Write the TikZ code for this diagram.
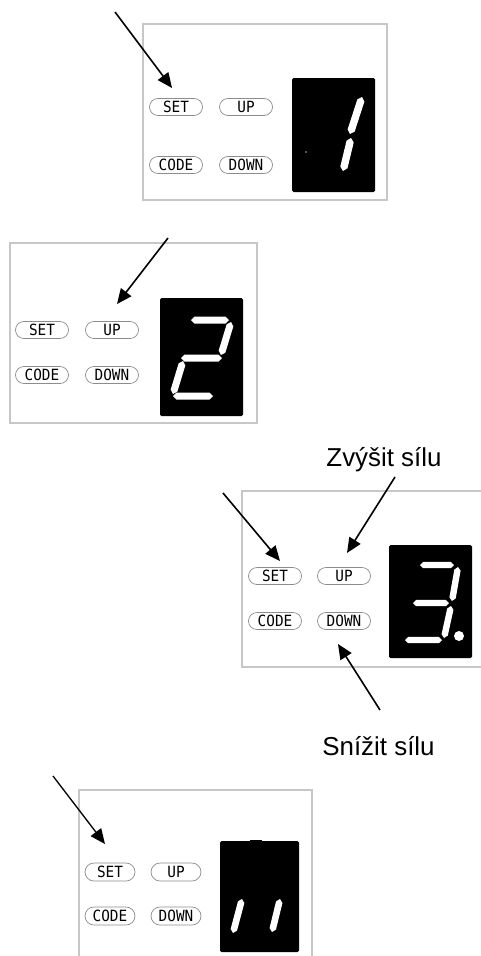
\documentclass[tikz,border=0pt]{standalone}
\usepackage{fontspec}
\setmainfont{Liberation Sans}
\newfontfamily\btnfont[FakeStretch=0.93]{DejaVu Sans Mono}
\usetikzlibrary{arrows.meta,calc,shapes.misc}
\tikzset{
 frame/.style={draw=black!22,line width=1.2bp},
 btn/.style={rounded rectangle,draw=black!45,line width=0.7bp,minimum width=53bp,minimum height=17bp,inner sep=0pt,font=\btnfont\fontsize{15.5}{15.5}\selectfont},
 disp/.style={fill=black,rounded corners=1.5bp},
 arr/.style={line width=1.6bp,-{Triangle[length=15bp,width=13bp]}},
 lbl/.style={font=\fontsize{26}{26}\selectfont,anchor=base,inner sep=0pt},
}
\newcommand\dseg[3][3bp]{%
  \coordinate (sA) at #2; \coordinate (sB) at #3;
  \coordinate (sA1) at ($(sA)!#1!(sB)$);
  \coordinate (sB1) at ($(sB)!#1!(sA)$);
  \fill[white] (sA) -- ($(sA1)!#1!90:(sB)$) -- ($(sB1)!#1!-90:(sA)$) -- (sB) -- ($(sB1)!#1!90:(sA)$) -- ($(sA1)!#1!-90:(sB)$) -- cycle;}
\begin{document}
\begin{tikzpicture}[x=1bp,y=-1bp]
\fill[white] (0,0) rectangle (481,956);
\useasboundingbox (0,0) rectangle (481,956);

% ---------- panel 1 ----------
\draw[frame] (143,24) rectangle (387,200);
\node[btn] (set1) at (176,107) {SET};
\node[btn] (up1) at (246,107) {UP};
\node[btn] (code1) at (176,165) {CODE};
\node[btn] (down1) at (246,165) {DOWN};
\fill[disp] (292,78) rectangle (375,192);
\fill[black!55] (306,152) circle (1.2bp);
\dseg[3.7bp]{(362,97)}{(350,134)}
\dseg[3.7bp]{(351,138)}{(343,171)}
\coordinate (a1s) at (115,12);
\coordinate (a1e) at (172,88);
\draw[arr] (a1s) -- (a1e);

% ---------- panel 2 ----------
\draw[frame] (10,243) rectangle (257,423);
\node[btn] (set2) at (42,330) {SET};
\node[btn] (up2) at (112,330) {UP};
\node[btn] (code2) at (42,375) {CODE};
\node[btn] (down2) at (112,375) {DOWN};
\fill[disp] (160,298) rectangle (243,416);
\dseg[3.5bp]{(191,320)}{(229,320)}
\dseg[3.5bp]{(231,322)}{(221,355)}
\dseg[3.5bp]{(181,358)}{(222,358)}
\dseg[3.5bp]{(183,361)}{(173,394)}
\dseg[3.5bp]{(173,396)}{(213,396)}
\coordinate (a2s) at (168,238);
\coordinate (a2e) at (117,304);
\draw[arr] (a2s) -- (a2e);

% ---------- panel 3 ----------
\draw[frame] (481,491) -- (242,491) -- (242,667) -- (481,667);
\node[btn] (set3) at (275,576) {SET};
\node[btn] (up3) at (344,576) {UP};
\node[btn] (code3) at (275,621) {CODE};
\node[btn] (down3) at (344,621) {DOWN};
\fill[disp] (389,545) rectangle (472,658);
\dseg[3.2bp]{(420,565)}{(454,565)}
\dseg[3.2bp]{(458,567)}{(452,601)}
\dseg[3.2bp]{(413,603)}{(449,603)}
\dseg[3.2bp]{(451,606)}{(444,638)}
\dseg[3.2bp]{(405,640)}{(442,640)}
\fill[white] (459,636) circle (5bp);
\node[lbl] (zvy) at (384,466) {Zvýšit sílu};
\node[lbl] (sni) at (378.5,755) {Snížit sílu};
\coordinate (a3s) at (223,493);
\coordinate (a3e) at (280,561);
\draw[arr] (a3s) -- (a3e);
\coordinate (a4s) at (395,477);
\coordinate (a4e) at (347,553);
\draw[arr] (a4s) -- (a4e);
\coordinate (a5s) at (380,710);
\coordinate (a5e) at (338,644);
\draw[arr] (a5s) -- (a5e);

% ---------- panel 4 ----------
\draw[frame] (79,956) -- (79,790) -- (312,790) -- (312,956);
\node[btn,minimum width=50bp,minimum height=18bp] (set4) at (110,872) {SET};
\node[btn,minimum width=50bp,minimum height=18bp] (up4) at (176,872) {UP};
\node[btn,minimum width=50bp,minimum height=18bp] (code4) at (110,916) {CODE};
\node[btn,minimum width=50bp,minimum height=18bp] (down4) at (176,916) {DOWN};
\fill[disp] (220,841) rectangle (299,952);
\fill[black] (250,839.5) rectangle (262,842);
\dseg[3.3bp]{(242,899)}{(233,933)}
\dseg[3.3bp]{(280,899)}{(272,932)}
\coordinate (a6s) at (53,776);
\coordinate (a6e) at (105,844);
\draw[arr,line width=1.3bp] (a6s) -- (a6e);
\end{tikzpicture}
\end{document}
